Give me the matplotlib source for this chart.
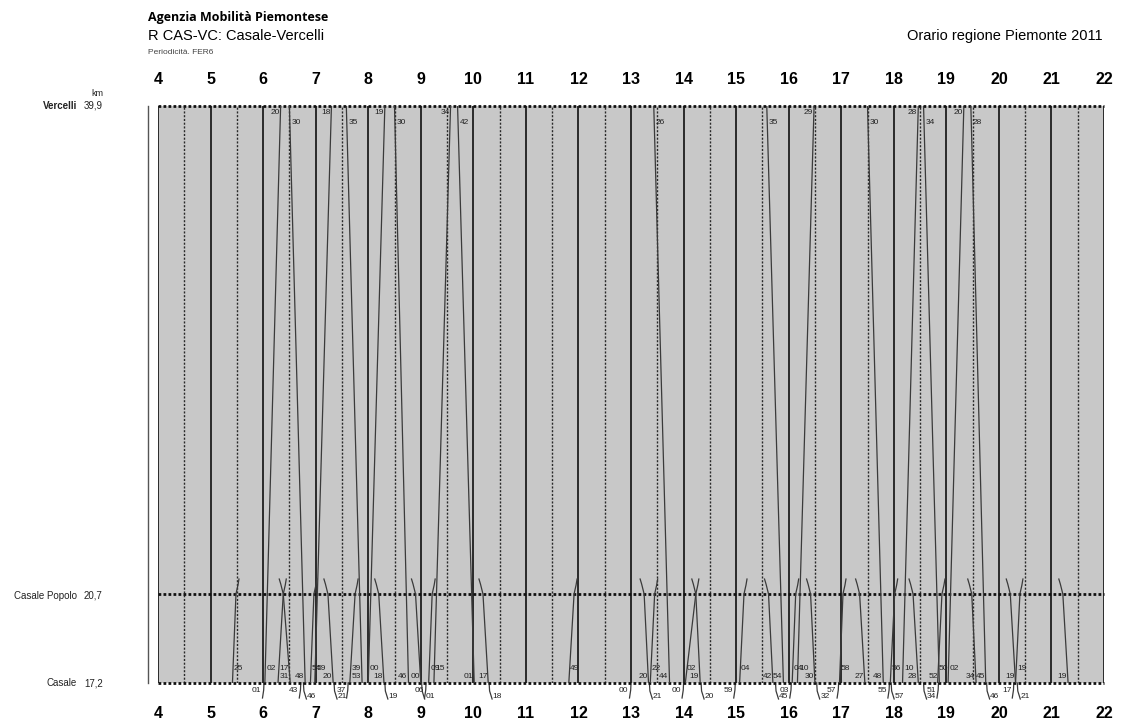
import matplotlib.pyplot as plt

plt.rcParams['font.family'] = ['Liberation Sans', 'DejaVu Sans']

W, H = 1121, 722

stations = ["Vercelli", "Casale Popolo", "Casale"]
station_km = [39.9, 20.7, 17.2]
station_km_text = ["39,9", "20,7", "17,2"]
hours = list(range(4, 23))

# full trains Casale -> Vercelli: (dep Casale, arr Vercelli)
full_up = [("6:02", "6:20"), ("6:59", "7:18"), ("8:00", "8:19"), ("9:15", "9:34"),
           ("16:10", "16:29"), ("18:10", "18:28"), ("19:02", "19:20")]
# full trains Vercelli -> Casale: (dep Vercelli, arr Casale)
full_down = [("6:30", "6:48"), ("7:35", "7:53"), ("8:30", "8:46"), ("9:42", "10:01"),
             ("13:26", "13:44"), ("15:35", "15:54"), ("17:30", "17:48"),
             ("18:34", "18:52"), ("19:28", "19:45")]
# short trains Casale -> Casale Popolo and beyond: (dep Casale, pass Casale Popolo)
short_up = [("5:25", "5:29"), ("6:17", "6:23"), ("6:54", "6:58"), ("7:39", "7:45"),
            ("9:09", "9:13"), ("11:49", "11:55"), ("13:22", "13:27"), ("14:02", "14:14"),
            ("15:04", "15:09"), ("16:04", "16:08"), ("16:58", "17:02"), ("17:56", "18:01"),
            ("18:50", "18:55"), ("20:19", "20:24")]
# short trains from beyond Casale Popolo -> Casale: (pass Casale Popolo, arr Casale)
short_down = [("6:23", "6:31"), ("7:14", "7:20"), ("8:12", "8:18"), ("8:54", "9:00"),
              ("10:11", "10:17"), ("13:15", "13:20"), ("14:14", "14:19"), ("15:37", "15:42"),
              ("16:25", "16:30"), ("17:21", "17:27"), ("18:22", "18:28"), ("19:29", "19:34"),
              ("20:13", "20:19"), ("21:13", "21:19")]
# connections below Casale: arriving from / leaving to another line
hooks_in = ["6:01", "6:43", "7:37", "9:06", "13:00", "14:00", "14:59", "16:03",
            "16:57", "17:55", "18:51", "20:17"]
hooks_out = ["6:46", "7:21", "8:19", "9:01", "10:18", "13:21", "14:20", "15:45",
             "16:32", "17:57", "18:34", "19:46", "20:21"]


def hm(s):
    h, m = s.split(":")
    return int(h) + int(m) / 60


def mins(s):
    return s.split(":")[1]


fig = plt.figure(figsize=(W / 100, H / 100), dpi=100)
x0, x1, y0, y1 = 158, 1104, 106, 683
ax = fig.add_axes([x0 / W, 1 - y1 / H, (x1 - x0) / W, (y1 - y0) / H])
ax.set_xlim(4, 22)
ax.set_ylim(station_km[2], station_km[0])
ax.set_facecolor('#c8c8c8')
for s in ax.spines.values():
    s.set_visible(False)
ax.set_xticks([])
ax.set_yticks([])

px = 18 / (x1 - x0)                                   # hours per pixel
py = (station_km[0] - station_km[2]) / (y1 - y0)      # km per pixel
kb, kp, kt = station_km[2], station_km[1], station_km[0]

for h in hours:
    ax.axvline(h, color='#2a2a2a', lw=1.4, zorder=1)
for h in hours[:-1]:
    ax.axvline(h + 0.5, color='#2a2a2a', lw=1.0, ls=(0, (1.5, 1.2)), zorder=1)
for k in station_km:
    ax.axhline(k, color='#111111', lw=2.0, ls=(0, (1, 0.8)), zorder=3, clip_on=False)
ax.plot([4 - 10 * px] * 2, [kb, kt], color='#555555', lw=1.0, clip_on=False)

lc = '#3a3a3a'
fs = 6
tk = dict(fontsize=fs, color='#222222', va='center', zorder=5)

for d, a in full_up:
    ax.plot([hm(d), hm(a)], [kb, kt], color=lc, lw=0.9, zorder=4)
    ax.text(hm(d) + 1.5 * px, kb + 15 * py, mins(d), ha='left', **tk)
    ax.text(hm(a) - 1 * px, kt - 7 * py, mins(a), ha='right', **tk)

for d, a in full_down:
    ax.plot([hm(d), hm(a)], [kt, kb], color=lc, lw=0.9, zorder=4)
    ax.text(hm(d) + 2 * px, kt - 17 * py, mins(d), ha='left', **tk)
    ax.text(hm(a) - 1 * px, kb + 6 * py, mins(a), ha='right', **tk)

for d, c in short_up:
    t0, t1 = hm(d), hm(c)
    ax.plot([t0, t1, t1 + 2 * px, t1 + 3 * px], [kb, kp, kp + 9 * py, kp + 15 * py],
            color=lc, lw=0.9, zorder=4)
    ax.text(t0 + 1.5 * px, kb + 15 * py, mins(d), ha='left', **tk)

for c, a in short_down:
    t1, t2 = hm(c), hm(a)
    ax.plot([t1 - 4 * px, t1 - 2.5 * px, t1, t2], [kp + 15 * py, kp + 10 * py, kp, kb],
            color=lc, lw=0.9, zorder=4)
    ax.text(t2 - 1 * px, kb + 6 * py, mins(a), ha='right', **tk)

for s in hooks_in:
    t = hm(s)
    ax.plot([t - 1.5 * px, t - 0.3 * px, t], [kb - 15 * py, kb - 7 * py, kb],
            color=lc, lw=0.9, clip_on=False)
    ax.text(t - 2.5 * px, kb - 8 * py, mins(s), ha='right', clip_on=False, **tk)

for s in hooks_out:
    t = hm(s)
    ax.plot([t, t + 0.5 * px, t + 3 * px], [kb, kb - 8 * py, kb - 16 * py],
            color=lc, lw=0.9, clip_on=False)
    ax.text(t + 3.5 * px, kb - 14 * py, mins(s), ha='left', clip_on=False, **tk)

# hour labels top and bottom
for h in hours:
    fx = (x0 + (h - 4) / px) / W
    fig.text(fx, 1 - 80 / H, str(h), ha='center', va='center', fontsize=11.5, fontweight='bold')
    fig.text(fx, 1 - 713 / H, str(h), ha='center', va='center', fontsize=11.5, fontweight='bold')

# station labels on the left
row_y = [106, 596, 683]
for name, kmt, yy in zip(stations, station_km_text, row_y):
    fig.text(77 / W, 1 - yy / H, name, ha='right', va='center', fontsize=7,
             fontweight='bold' if name == "Vercelli" else 'normal', color='#222222')
    fig.text(84 / W, 1 - yy / H, kmt, ha='left', va='center', fontsize=7, color='#222222')
fig.text(97 / W, 1 - 93 / H, "km", ha='center', va='center', fontsize=6.5, color='#222222')

fig.text(148 / W, 1 - 17 / H, "Agenzia Mobilità Piemontese", ha='left', va='center',
         fontsize=9, fontweight='bold', family=['Open Sans', 'DejaVu Sans'])
fig.text(148 / W, 1 - 36 / H, "R CAS-VC: Casale-Vercelli", ha='left', va='center',
         fontsize=10.5)
fig.text(148 / W, 1 - 53 / H, "Periodicità. FER6", ha='left', va='center',
         fontsize=6, color='#444444')
fig.text(1103 / W, 1 - 36 / H, "Orario regione Piemonte 2011", ha='right', va='center',
         fontsize=10.5)

fig.savefig("out.png", dpi=100)
